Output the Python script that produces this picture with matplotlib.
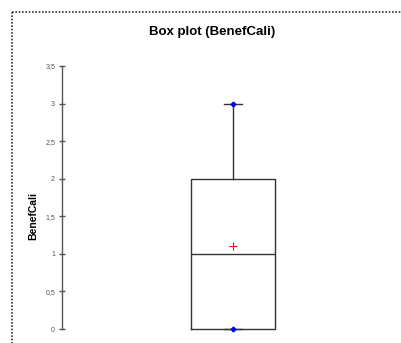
import matplotlib
matplotlib.use("Agg")
import matplotlib.pyplot as plt
from matplotlib.lines import Line2D

# data
variable = "BenefCali"
stat_min = 0.0
stat_q1 = 0.0
stat_median = 1.0
stat_q3 = 2.0
stat_max = 3.0
stat_mean = 1.1
y_ticks = [0, 0.5, 1, 1.5, 2, 2.5, 3, 3.5]
y_tick_labels = ["0", "0,5", "1", "1,5", "2", "2,5", "3", "3,5"]

W, H = 401, 343
fig = plt.figure(figsize=(W / 100, H / 100), dpi=100)
fig.patch.set_facecolor("white")

# dotted frame of the chart area
fig.add_artist(Line2D([12 / W, 1.01], [1 - 12 / H, 1 - 12 / H], transform=fig.transFigure,
                      color="#333333", lw=1.2, ls=(0, (1, 1))))
fig.add_artist(Line2D([12 / W, 12 / W], [1 - 12 / H, -0.01], transform=fig.transFigure,
                      color="#333333", lw=1.2, ls=(0, (1, 1))))

ax_left, ax_right = 62, 402
ax_top, ax_bot = 66, 329
ax = fig.add_axes([ax_left / W, 1 - ax_bot / H, (ax_right - ax_left) / W, (ax_bot - ax_top) / H])

stats = [{
    "med": stat_median, "q1": stat_q1, "q3": stat_q3,
    "whislo": stat_min, "whishi": stat_max, "mean": stat_mean, "fliers": [],
}]
pos = 0.5 + 1 / 340
parts = ax.bxp(stats, positions=[pos], widths=[84 / 340], showmeans=False, showfliers=False,
               boxprops=dict(color="#333333", lw=1.0),
               medianprops=dict(color="#333333", lw=1.0),
               whiskerprops=dict(color="#333333", lw=1.0),
               capprops=dict(color="#333333", lw=1.0),
               capwidths=[18 / 340])
for key in parts:
    for art in parts[key]:
        art.set_clip_on(False)
ax.plot([pos], [stat_mean], marker="+", color="red", ms=6, mew=0.8, ls="none", clip_on=False)
ax.plot([pos, pos], [stat_min, stat_max], marker="P", color="blue", ms=3, ls="none", clip_on=False)

ax.set_xlim(0, 1)
ax.set_ylim(0, 3.5)
for s in ["top", "right", "bottom"]:
    ax.spines[s].set_visible(False)
ax.spines["left"].set_color("#555555")
ax.spines["left"].set_linewidth(1.0)
ax.set_xticks([])
ax.set_yticks(y_ticks)
ax.set_yticklabels(y_tick_labels, fontsize=5, color="#555555", family="Liberation Sans")
ax.tick_params(axis="y", direction="inout", length=4, width=1, color="#555555", pad=3)
ax.patch.set_alpha(0)

fig.text(212 / W, 1 - 32 / H, f"Box plot ({variable})", ha="center", va="center",
         fontsize=9.5, fontweight="bold", family="Liberation Sans")
fig.text(33 / W, 1 - 216 / H, variable, ha="center", va="center", rotation=90,
         fontsize=7.5, fontweight="bold", family="Liberation Sans")

fig.savefig("out.png", dpi=100)
